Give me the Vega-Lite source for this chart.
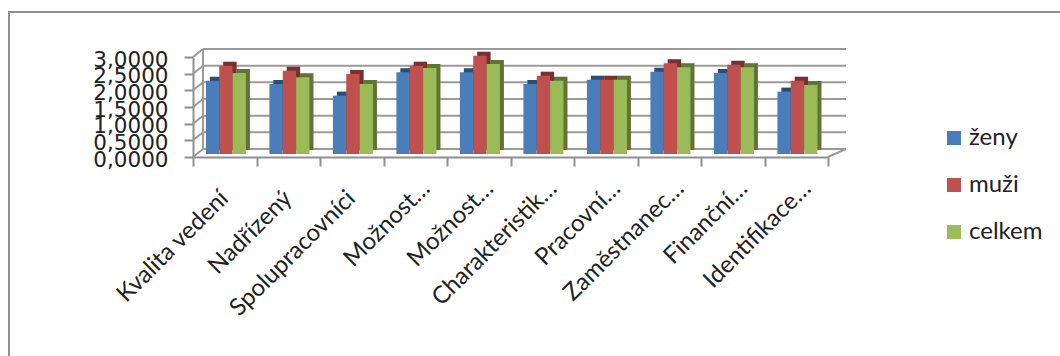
{
  "$schema": "https://vega.github.io/schema/vega-lite/v6.json",
  "autosize": {"type": "none"},
  "padding": {"left": 9, "top": 12, "right": 0, "bottom": 0},
  "width": 1056,
  "height": 348,
  "background": "white",
  "view": {"stroke": "#8f8f8f", "strokeWidth": 2, "fill": "white"},
  "datasets": {
    "hodnoty": [
      {"oblast": "Kvalita vedení", "skupina": "ženy", "hodnota": 2.2},
      {"oblast": "Kvalita vedení", "skupina": "muži", "hodnota": 2.65},
      {"oblast": "Kvalita vedení", "skupina": "celkem", "hodnota": 2.43},
      {"oblast": "Nadřízený", "skupina": "ženy", "hodnota": 2.1},
      {"oblast": "Nadřízený", "skupina": "muži", "hodnota": 2.5},
      {"oblast": "Nadřízený", "skupina": "celkem", "hodnota": 2.3},
      {"oblast": "Spolupracovníci", "skupina": "ženy", "hodnota": 1.75},
      {"oblast": "Spolupracovníci", "skupina": "muži", "hodnota": 2.4},
      {"oblast": "Spolupracovníci", "skupina": "celkem", "hodnota": 2.1},
      {"oblast": "Možnost…", "skupina": "ženy", "hodnota": 2.45},
      {"oblast": "Možnost…", "skupina": "muži", "hodnota": 2.65},
      {"oblast": "Možnost…", "skupina": "celkem", "hodnota": 2.58},
      {"oblast": "Možnost… ", "skupina": "ženy", "hodnota": 2.45},
      {"oblast": "Možnost… ", "skupina": "muži", "hodnota": 2.95},
      {"oblast": "Možnost… ", "skupina": "celkem", "hodnota": 2.7},
      {"oblast": "Charakteristik…", "skupina": "ženy", "hodnota": 2.1},
      {"oblast": "Charakteristik…", "skupina": "muži", "hodnota": 2.35},
      {"oblast": "Charakteristik…", "skupina": "celkem", "hodnota": 2.2},
      {"oblast": "Pracovní…", "skupina": "ženy", "hodnota": 2.23},
      {"oblast": "Pracovní…", "skupina": "muži", "hodnota": 2.23},
      {"oblast": "Pracovní…", "skupina": "celkem", "hodnota": 2.23},
      {"oblast": "Zaměstnanec…", "skupina": "ženy", "hodnota": 2.47},
      {"oblast": "Zaměstnanec…", "skupina": "muži", "hodnota": 2.72},
      {"oblast": "Zaměstnanec…", "skupina": "celkem", "hodnota": 2.6},
      {"oblast": "Finanční…", "skupina": "ženy", "hodnota": 2.43},
      {"oblast": "Finanční…", "skupina": "muži", "hodnota": 2.68},
      {"oblast": "Finanční…", "skupina": "celkem", "hodnota": 2.6},
      {"oblast": "Identifikace…", "skupina": "ženy", "hodnota": 1.87},
      {"oblast": "Identifikace…", "skupina": "muži", "hodnota": 2.2},
      {"oblast": "Identifikace…", "skupina": "celkem", "hodnota": 2.07}
    ],
    "mrizka": [
      {"uroven": 0, "od": 0, "do": 1},
      {"uroven": 0.5, "od": 0, "do": 1},
      {"uroven": 1, "od": 0, "do": 1},
      {"uroven": 1.5, "od": 0, "do": 1},
      {"uroven": 2, "od": 0, "do": 1},
      {"uroven": 2.5, "od": 0, "do": 1},
      {"uroven": 3, "od": 0, "do": 1}
    ],
    "stena": [{"kraj": 0, "dole": 0, "nahore": 3}],
    "podlaha": [{"kraj": 1, "uroven": 0}]
  },
  "resolve": {"scale": {"x": "independent", "xOffset": "independent"}, "axis": {"x": "independent"}},
  "layer": [
    {
      "data": {"name": "mrizka"},
      "mark": {"type": "rule", "color": "#9a9a9a", "strokeWidth": 2, "yOffset": -8, "y2Offset": -8},
      "encoding": {
        "x": {"field": "od", "type": "quantitative", "scale": {"domain": [0, 1], "range": [194, 837]}, "axis": null},
        "x2": {"field": "do"},
        "y": {"field": "uroven", "type": "quantitative", "scale": {"domain": [0, 3], "range": [145, 45]},
          "axis": {
            "orient": "left", "offset": -184, "values": [0, 0.5, 1, 1.5, 2, 2.5, 3], "title": null, "grid": false,
            "labelExpr": "replace(format(datum.value, '.4f'), '.', ',')",
            "labelFont": "DejaVu Sans", "labelFontSize": 21.5, "labelColor": "#222222", "labelPadding": 16,
            "labelBaseline": "middle", "labelOffset": 3,
            "tickSize": 9, "tickColor": "#8f8f8f", "tickWidth": 2, "domainColor": "#8f8f8f", "domainWidth": 2, "labelOverlap": false
          }
        }
      }
    },
    {
      "data": {"name": "mrizka"},
      "mark": {"type": "rule", "color": "#9a9a9a", "strokeWidth": 2, "xOffset": -10, "y2Offset": -8},
      "encoding": {
        "x": {"field": "od", "type": "quantitative", "scale": {"domain": [0, 1], "range": [194, 837]}, "axis": null},
        "x2": {"field": "od"},
        "y": {"field": "uroven", "type": "quantitative"},
        "y2": {"field": "uroven"}
      }
    },
    {
      "data": {"name": "stena"},
      "mark": {"type": "rule", "color": "#9a9a9a", "strokeWidth": 2, "yOffset": -8, "y2Offset": -8},
      "encoding": {
        "x": {"field": "kraj", "type": "quantitative", "scale": {"domain": [0, 1], "range": [194, 837]}, "axis": null},
        "y": {"field": "dole", "type": "quantitative"},
        "y2": {"field": "nahore"}
      }
    },
    {
      "data": {"name": "podlaha"},
      "mark": {"type": "rule", "color": "#9a9a9a", "strokeWidth": 2, "xOffset": -18, "y2Offset": -8},
      "encoding": {
        "x": {"field": "kraj", "type": "quantitative", "scale": {"domain": [0, 1], "range": [194, 837]}, "axis": null},
        "x2": {"field": "kraj"},
        "y": {"field": "uroven", "type": "quantitative"},
        "y2": {"field": "uroven"}
      }
    },
    {
      "data": {"name": "hodnoty"},
      "encoding": {
        "x": {
          "field": "oblast", "type": "nominal", "sort": null,
          "scale": {"range": [184, 819], "paddingInner": 0, "paddingOuter": 0},
          "axis": {
            "orient": "bottom", "offset": -203, "title": null, "tickBand": "extent", "labels": false,
            "tickSize": 9, "tickColor": "#8f8f8f", "tickWidth": 2, "domainColor": "#8f8f8f", "domainWidth": 2
          }
        },
        "y": {"field": "hodnota", "type": "quantitative"},
        "color": {
          "field": "skupina", "type": "nominal", "sort": ["ženy", "muži", "celkem"],
          "scale": {"domain": ["ženy", "muži", "celkem"], "range": ["#4a7ebb", "#c0504d", "#9bbb59"]},
          "legend": {
            "orient": "none", "legendX": 933, "legendY": 114, "title": null, "symbolType": "square", "symbolSize": 196,
            "symbolStrokeWidth": 0, "labelFont": "Lato", "labelFontSize": 24, "labelColor": "#222222",
            "rowPadding": 23, "labelOffset": 3
          }
        }
      },
      "resolve": {"scale": {"xOffset": "independent"}},
      "layer": [
        {
          "mark": {"type": "bar", "yOffset": -7, "y2Offset": -7},
          "encoding": {"xOffset": {"field": "skupina", "type": "nominal", "sort": ["ženy", "muži", "celkem"], "scale": {"paddingInner": 0, "paddingOuter": 0.88, "align": 0.72}}}
        },
        {
          "mark": {"type": "bar", "opacity": 0.38, "yOffset": -7, "y2Offset": -7},
          "encoding": {
            "xOffset": {"field": "skupina", "type": "nominal", "sort": ["ženy", "muži", "celkem"], "scale": {"paddingInner": 0, "paddingOuter": 0.88, "align": 0.72}},
            "color": {"value": "black"}
          }
        },
        {
          "mark": {"type": "bar", "yOffset": -3, "y2Offset": -3},
          "encoding": {"xOffset": {"field": "skupina", "type": "nominal", "sort": ["ženy", "muži", "celkem"], "scale": {"paddingInner": 0, "paddingOuter": 0.88, "align": 0.55}}}
        },
        {
          "transform": [{"filter": "datum.skupina === 'ženy' && indexof(datum.oblast, '…') < 0"}],
          "mark": {"type": "text", "angle": 315, "align": "right", "baseline": "middle", "font": "Lato", "fontSize": 24, "color": "#222222", "yOffset": 38, "xOffset": 0},
          "encoding": {"text": {"field": "oblast"}, "y": {"datum": 0}, "color": {"value": "#222222"}}
        },
        {
          "transform": [{"filter": "datum.skupina === 'ženy' && indexof(datum.oblast, '…') >= 0"}],
          "mark": {"type": "text", "angle": 315, "align": "right", "baseline": "middle", "font": "Lato", "fontSize": 24, "color": "#222222", "yOffset": 28, "xOffset": 11},
          "encoding": {"text": {"field": "oblast"}, "y": {"datum": 0}, "color": {"value": "#222222"}}
        }
      ]
    }
  ]
}
